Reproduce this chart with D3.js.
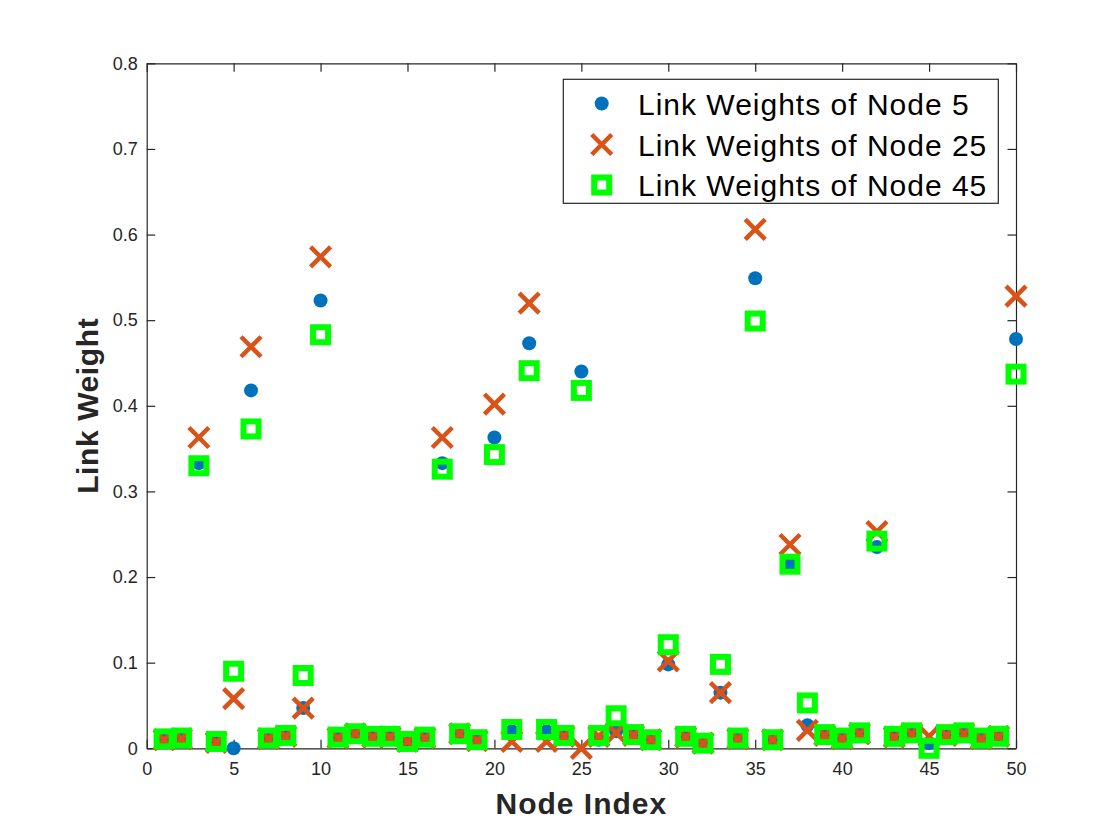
<!DOCTYPE html>
<html>
<head>
<meta charset="utf-8">
<script src="https://cdn.jsdelivr.net/npm/d3@7/dist/d3.min.js"></script>
<style>
  html, body { margin: 0; padding: 0; background: #fff; }
  svg { display: block; }
  text { font-family: "Liberation Sans", Arial, Helvetica, sans-serif; }
</style>
</head>
<body>
<svg id="chart" width="1120" height="840"></svg>
<script>
// ---------- data ----------
const nodeIndex = [1,2,3,4,5,6,7,8,9,10,11,12,13,14,15,16,17,18,19,20,21,22,23,24,25,
                   26,27,28,29,30,31,32,33,34,35,36,37,38,39,40,41,42,43,44,45,46,47,48,49,50];

const weightsNode5 = [0.011,0.012,0.333,0.008,0.000,0.418,0.012,0.015,0.047,0.523,
                      0.013,0.018,0.014,0.014,0.009,0.013,0.333,0.018,0.010,0.363,
                      0.020,0.473,0.020,0.015,0.440,0.010,0.020,0.016,0.011,0.098,
                      0.014,0.006,0.065,0.012,0.549,0.011,0.215,0.027,0.016,0.012,
                      0.018,0.235,0.014,0.018,0.006,0.016,0.018,0.012,0.015,0.478];

const weightsNode25 = [0.010,0.011,0.363,0.007,0.058,0.469,0.011,0.014,0.047,0.574,
                       0.012,0.017,0.013,0.013,0.008,0.012,0.363,0.017,0.009,0.402,
                       0.008,0.520,0.008,0.014,0.000,0.014,0.018,0.015,0.010,0.102,
                       0.013,0.006,0.065,0.011,0.606,0.010,0.238,0.021,0.015,0.011,
                       0.017,0.253,0.013,0.017,0.014,0.015,0.017,0.011,0.014,0.528];

const weightsNode45 = [0.011,0.012,0.330,0.008,0.090,0.373,0.012,0.015,0.085,0.483,
                       0.013,0.017,0.014,0.014,0.008,0.013,0.326,0.017,0.010,0.343,
                       0.022,0.441,0.022,0.015,0.418,0.015,0.038,0.016,0.010,0.121,
                       0.014,0.006,0.098,0.012,0.499,0.010,0.215,0.053,0.016,0.012,
                       0.018,0.242,0.014,0.018,0.000,0.016,0.018,0.012,0.014,0.437];

const xTicks = [0,5,10,15,20,25,30,35,40,45,50];
const yTicks = [0,0.1,0.2,0.3,0.4,0.5,0.6,0.7,0.8];
const legendLabels = ["Link Weights of Node 5","Link Weights of Node 25","Link Weights of Node 45"];

// ---------- layout ----------
const L = 146.7, R = 1016, T = 63.3, B = 748.3;
const svg = d3.select("#chart");
const x = d3.scaleLinear().domain([0, 50]).range([L, R]);
const y = d3.scaleLinear().domain([0, 0.8]).range([B, T]);

const axisColor = "#262626";
const fmtY = d => d === 0 ? "0" : d3.format(".1f")(d);

// axes (ticks pointing inward)
const gB = svg.append("g").attr("transform", `translate(0,${B})`)
  .call(d3.axisBottom(x).tickValues(xTicks).tickFormat(d3.format("d"))
    .tickSizeInner(-8.5).tickSizeOuter(0).tickPadding(14));
const gT = svg.append("g").attr("transform", `translate(0,${T})`)
  .call(d3.axisTop(x).tickValues(xTicks).tickFormat("")
    .tickSizeInner(-8.5).tickSizeOuter(0));
const gL = svg.append("g").attr("transform", `translate(${L},0)`)
  .call(d3.axisLeft(y).tickValues(yTicks).tickFormat(fmtY)
    .tickSizeInner(-8.5).tickSizeOuter(0).tickPadding(9));
const gR = svg.append("g").attr("transform", `translate(${R},0)`)
  .call(d3.axisRight(y).tickValues(yTicks).tickFormat("")
    .tickSizeInner(-8.5).tickSizeOuter(0));

[gB, gT, gL, gR].forEach(g => {
  g.select(".domain").attr("stroke", axisColor).attr("stroke-width", 1.2);
  g.selectAll(".tick line").attr("stroke", axisColor).attr("stroke-width", 1.2);
  g.selectAll(".tick text").attr("fill", axisColor)
    .style("font-size", "18px")
    .style("font-family", "'Liberation Sans', Arial, Helvetica, sans-serif");
});

// axis titles
svg.append("text")
  .attr("x", (L + R) / 2).attr("y", 814)
  .attr("text-anchor", "middle")
  .attr("fill", axisColor)
  .style("font-size", "30px").style("font-weight", "bold")
  .style("letter-spacing", "1px")
  .text("Node Index");

svg.append("text")
  .attr("transform", `translate(98,${(T + B) / 2}) rotate(-90)`)
  .attr("text-anchor", "middle")
  .attr("fill", axisColor)
  .style("font-size", "30px").style("font-weight", "bold")
  .style("letter-spacing", "0.6px")
  .text("Link Weight");

// ---------- marks ----------
const blue = "#0072BD", orange = "#D95319", green = "#00FF00";
const xs = 10;     // half-size of X marker
const sq = 15;     // square side

const plot = svg.append("g");

function drawDot(g, cx, cy) {
  g.append("circle").attr("cx", cx).attr("cy", cy).attr("r", 7).attr("fill", blue);
}
function drawCross(g, cx, cy) {
  g.append("path")
    .attr("d", `M${cx - xs},${cy - xs}L${cx + xs},${cy + xs}M${cx - xs},${cy + xs}L${cx + xs},${cy - xs}`)
    .attr("stroke", orange).attr("stroke-width", 4.5).attr("fill", "none");
}
function drawSquare(g, cx, cy) {
  g.append("rect").attr("x", cx - sq / 2).attr("y", cy - sq / 2)
    .attr("width", sq).attr("height", sq)
    .attr("fill", "none").attr("stroke", green).attr("stroke-width", 6);
}

const g5 = plot.append("g"), g25 = plot.append("g"), g45 = plot.append("g");
nodeIndex.forEach((n, i) => drawDot(g5, x(n), y(weightsNode5[i])));
nodeIndex.forEach((n, i) => drawCross(g25, x(n), y(weightsNode25[i])));
nodeIndex.forEach((n, i) => drawSquare(g45, x(n), y(weightsNode45[i])));

// ---------- legend ----------
const lg = svg.append("g");
lg.append("rect").attr("x", 563.3).attr("y", 79.3).attr("width", 435).attr("height", 124)
  .attr("fill", "#fff").attr("stroke", axisColor).attr("stroke-width", 1.2);
const rowY = [103.5, 144.5, 185];
const markerX = 601.7;
drawDot(lg, markerX, rowY[0]);
drawCross(lg, markerX, rowY[1]);
drawSquare(lg, markerX, rowY[2]);
legendLabels.forEach((t, i) => {
  lg.append("text").attr("x", 638).attr("y", rowY[i] + 11)
    .attr("fill", "#000").style("font-size", "30px")
    .style("letter-spacing", "1px").text(t);
});
</script>
</body>
</html>
